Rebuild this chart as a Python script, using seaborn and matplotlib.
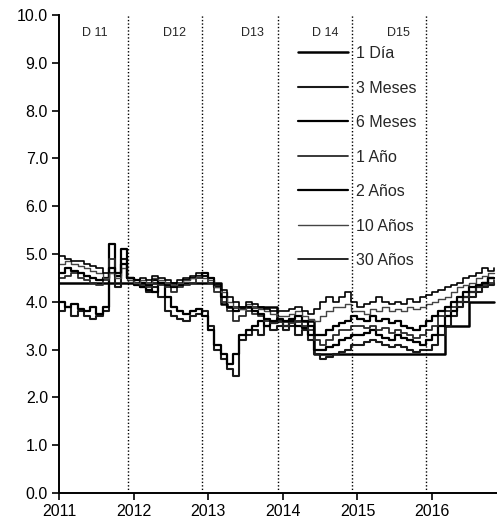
import numpy as np
import pandas as pd
import matplotlib
matplotlib.use("Agg")
import matplotlib.pyplot as plt
import seaborn as sns

# Fechas mensuales: ene-2011 a nov-2016 (años decimales)
meses = 2011 + np.arange(71) / 12.0

# Tasas por plazo (%), lectura mensual aproximada del gráfico
dia_1 = [4.4, 4.4, 4.4, 4.4, 4.4, 4.4, 4.4, 4.4, 4.4, 4.4, 4.4, 4.4,
         4.4, 4.4, 4.4, 4.4, 4.4, 4.4, 4.4, 4.4, 4.4, 4.4, 4.4, 4.4,
         4.4, 4.4, 3.95, 3.9, 3.9, 3.9, 3.9, 3.9, 3.9, 3.9, 3.9, 3.6,
         3.6, 3.6, 3.6, 3.6, 3.6, 2.9, 2.9, 2.9, 2.9, 2.9, 2.9, 2.9,
         2.9, 2.9, 2.9, 2.9, 2.9, 2.9, 2.9, 2.9, 2.9, 2.9, 2.9, 2.9,
         2.9, 2.9, 3.5, 3.5, 3.5, 3.5, 4.0, 4.0, 4.0, 4.0, 4.0]
meses_3 = [3.8, 3.9, 3.7, 3.8, 3.7, 3.65, 3.7, 3.8, 4.6, 4.3, 4.9, 4.5,
           4.4, 4.3, 4.2, 4.3, 4.1, 3.8, 3.7, 3.65, 3.6, 3.7, 3.75, 3.8,
           3.5, 3.0, 2.8, 2.6, 2.45, 3.2, 3.3, 3.4, 3.3, 3.5, 3.4, 3.5,
           3.4, 3.5, 3.3, 3.4, 3.2, 2.9, 2.8, 2.85, 2.9, 2.95, 3.0, 3.1,
           3.1, 3.15, 3.2, 3.15, 3.1, 3.05, 3.1, 3.05, 3.0, 2.95, 3.0, 3.0,
           3.1, 3.3, 3.5, 3.7, 3.9, 4.0, 4.1, 4.2, 4.3, 4.35, 4.4]
meses_6 = [4.0, 3.9, 3.95, 3.85, 3.8, 3.9, 3.75, 3.9, 5.2, 4.6, 5.1, 4.5,
           4.35, 4.3, 4.25, 4.2, 4.4, 4.1, 3.9, 3.8, 3.75, 3.8, 3.85, 3.7,
           3.4, 3.1, 2.9, 2.7, 2.9, 3.3, 3.4, 3.5, 3.6, 3.5, 3.55, 3.6,
           3.5, 3.6, 3.5, 3.45, 3.3, 3.0, 3.0, 3.05, 3.1, 3.2, 3.25, 3.3,
           3.3, 3.35, 3.4, 3.3, 3.25, 3.2, 3.3, 3.25, 3.2, 3.15, 3.1, 3.2,
           3.3, 3.5, 3.7, 3.8, 4.0, 4.1, 4.2, 4.3, 4.4, 4.5, 4.5]
ano_1 = [4.5, 4.55, 4.6, 4.5, 4.45, 4.4, 4.35, 4.45, 4.9, 4.6, 4.8, 4.5,
         4.4, 4.35, 4.3, 4.4, 4.35, 4.3, 4.2, 4.3, 4.35, 4.4, 4.5, 4.55,
         4.4, 4.2, 4.0, 3.8, 3.6, 3.7, 3.8, 3.75, 3.7, 3.6, 3.55, 3.6,
         3.5, 3.55, 3.6, 3.5, 3.4, 3.2, 3.1, 3.2, 3.3, 3.4, 3.4, 3.5,
         3.5, 3.45, 3.5, 3.4, 3.45, 3.35, 3.4, 3.35, 3.3, 3.25, 3.3, 3.4,
         3.5, 3.7, 3.8, 3.9, 4.0, 4.1, 4.2, 4.3, 4.35, 4.4, 4.45]
anos_2 = [4.6, 4.7, 4.65, 4.6, 4.55, 4.5, 4.45, 4.5, 4.7, 4.55, 4.8, 4.5,
          4.45, 4.4, 4.35, 4.45, 4.4, 4.35, 4.3, 4.35, 4.45, 4.5, 4.55, 4.6,
          4.5, 4.3, 4.1, 3.9, 3.8, 3.85, 3.9, 3.8, 3.75, 3.65, 3.6, 3.65,
          3.6, 3.65, 3.7, 3.6, 3.5, 3.3, 3.3, 3.4, 3.5, 3.55, 3.6, 3.7,
          3.65, 3.6, 3.7, 3.6, 3.65, 3.55, 3.6, 3.5, 3.45, 3.4, 3.5, 3.6,
          3.7, 3.8, 3.9, 4.0, 4.1, 4.2, 4.3, 4.35, 4.4, 4.5, 4.5]
anos_10 = [4.8, 4.85, 4.8, 4.75, 4.7, 4.65, 4.6, 4.5, 4.6, 4.5, 4.7, 4.45,
           4.4, 4.45, 4.4, 4.5, 4.45, 4.4, 4.35, 4.4, 4.45, 4.5, 4.55, 4.5,
           4.45, 4.3, 4.2, 4.0, 3.9, 3.85, 3.95, 3.9, 3.85, 3.8, 3.75, 3.7,
           3.7, 3.75, 3.8, 3.7, 3.65, 3.6, 3.7, 3.8, 3.9, 3.9, 3.95, 3.8,
           3.8, 3.75, 3.85, 3.8, 3.9, 3.8, 3.85, 3.8, 3.9, 3.85, 3.9, 3.95,
           4.0, 4.05, 4.1, 4.2, 4.3, 4.35, 4.4, 4.5, 4.55, 4.6, 4.6]
anos_30 = [4.95, 4.9, 4.85, 4.85, 4.8, 4.75, 4.7, 4.6, 4.7, 4.6, 4.8, 4.5,
           4.45, 4.5, 4.45, 4.55, 4.5, 4.45, 4.4, 4.45, 4.5, 4.55, 4.6, 4.55,
           4.5, 4.35, 4.25, 4.1, 4.0, 3.9, 4.0, 3.95, 3.9, 3.85, 3.8, 3.8,
           3.8, 3.85, 3.9, 3.8, 3.75, 3.85, 4.0, 4.1, 4.0, 4.1, 4.2, 4.0,
           3.9, 3.95, 4.0, 4.1, 4.0, 3.95, 4.0, 3.95, 4.05, 4.0, 4.1, 4.15,
           4.2, 4.25, 4.3, 4.35, 4.4, 4.5, 4.55, 4.6, 4.7, 4.65, 4.7]

series = {
    "1 Día": dia_1,
    "3 Meses": meses_3,
    "6 Meses": meses_6,
    "1 Año": ano_1,
    "2 Años": anos_2,
    "10 Años": anos_10,
    "30 Años": anos_30,
}
estilos = {
    "1 Día": ("black", 1.8, "-"),
    "3 Meses": ("#1a1a1a", 1.5, "-"),
    "6 Meses": ("black", 1.6, "-"),
    "1 Año": ("#2a2a2a", 1.3, "-"),
    "2 Años": ("black", 1.6, "-"),
    "10 Años": ("#444444", 1.0, "-"),
    "30 Años": ("black", 1.2, "-"),
}

# Fin de cada año de datos (líneas punteadas) y etiquetas
cortes = [2011.92, 2012.92, 2013.93, 2014.93, 2015.92]
etiquetas_d = ["D 11", "D12", "D13", "D 14", "D15"]
pos_d = [2011.48, 2012.55, 2013.59, 2014.57, 2015.55]

sns.set_style("ticks")
plt.rcParams["font.family"] = ["Liberation Sans", "DejaVu Sans"]

fig = plt.figure(figsize=(4.97, 5.19), dpi=100)
ax = fig.add_axes([59 / 497, 26 / 519, 438 / 497, 478 / 519])

for nombre, valores in series.items():
    color, lw, ls = estilos[nombre]
    df = pd.DataFrame({"fecha": meses, "tasa": valores})
    sns.lineplot(data=df, x="fecha", y="tasa", ax=ax, color=color, lw=lw, ls=ls,
                 drawstyle="steps-post", label=nombre)

for c in cortes:
    ax.axvline(c, color="black", ls=(0, (1, 1.5)), lw=1.0)
for t, p in zip(etiquetas_d, pos_d):
    ax.text(p, 9.62, t, ha="center", va="center", fontsize=9)

ax.set_xlim(2011, 2016.87)
ax.set_ylim(0, 10)
ax.set_xticks([2011, 2012, 2013, 2014, 2015, 2016])
ax.set_xticklabels(["2011", "2012", "2013", "2014", "2015", "2016"])
ax.set_yticks(np.arange(0, 11, 1))
ax.set_yticklabels([f"{v:.1f}" for v in range(11)])
ax.tick_params(direction="out", length=5, width=1.2, labelsize=11.5, pad=3, colors="black")
ax.set_xlabel("")
ax.set_ylabel("")
sns.despine(ax=ax)
for s in ["left", "bottom"]:
    ax.spines[s].set_linewidth(1.4)
    ax.spines[s].set_color("black")

ax.legend(loc="upper left", bbox_to_anchor=(0.5457, 0.935), frameon=False, fontsize=11.5,
          handlelength=3.1, handletextpad=0.5, labelspacing=1.22, borderpad=0, borderaxespad=0)

fig.savefig("out.png", dpi=100)
